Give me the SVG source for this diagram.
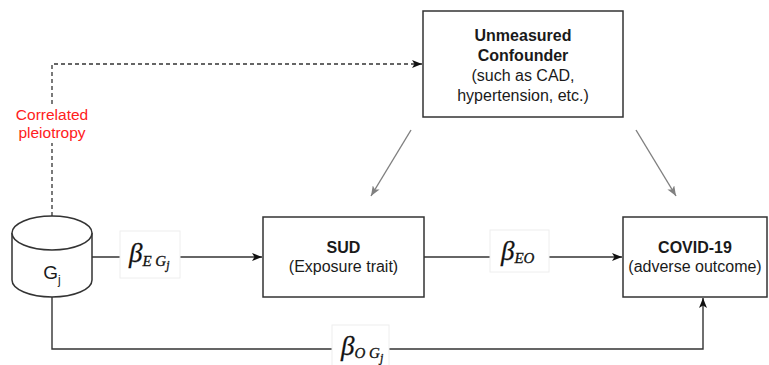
<svg xmlns="http://www.w3.org/2000/svg" width="769" height="365" viewBox="0 0 769 365">
<style>
.box{fill:#fff;stroke:#333;stroke-width:1.5}
.ln{fill:none;stroke:#333;stroke-width:1.4}
.dash{fill:none;stroke:#333;stroke-width:1.3;stroke-dasharray:4 3}
.gry{fill:none;stroke:#808080;stroke-width:1.4}
.t{font-family:"Liberation Sans",Arial,sans-serif;font-size:16px;fill:#1a1a1a;text-anchor:middle}
.b{font-weight:bold}
.red{fill:#ff2020;font-size:15.5px}
.beta{font-family:"Liberation Serif","DejaVu Serif",serif;font-style:italic;fill:#111;stroke:#111;stroke-width:0.3}
.lbl{fill:#fff;stroke:#eeeeee;stroke-width:1}
</style>
<defs>
<marker id="ar" viewBox="0 0 10 8" refX="10" refY="4" markerWidth="10" markerHeight="8" markerUnits="userSpaceOnUse" orient="auto">
<path d="M0,0 L10,4 L0,8 L2.5,4 Z" fill="#111"/>
</marker>
<marker id="ag" viewBox="0 0 10 8" refX="10" refY="4" markerWidth="10" markerHeight="8" markerUnits="userSpaceOnUse" orient="auto">
<path d="M0,0 L10,4 L0,8 L2.5,4 Z" fill="#808080"/>
</marker>
</defs>
<rect width="769" height="365" fill="#fff"/>
<g id="connectors">
<path class="dash" d="M52,216 L52,64 L422,64" marker-end="url(#ar)"/>
<path class="ln" d="M92,257 L262,257" marker-end="url(#ar)"/>
<path class="ln" d="M424,257 L622,257" marker-end="url(#ar)"/>
<path class="ln" d="M52,297 L52,349 L703,349 L703,298" marker-end="url(#ar)"/>
<path class="gry" d="M411,130 L371,196" marker-end="url(#ag)"/>
<path class="gry" d="M636,130 L676,196" marker-end="url(#ag)"/>
<g id="label-pleio">
<rect x="13" y="106" width="78" height="37" fill="#fff"/>
<text class="t red" x="52" y="120">Correlated</text>
<text class="t red" x="52" y="138">pleiotropy</text>
</g>
<g id="label-beta-egj">
<rect class="lbl" x="120" y="231" width="60" height="47"/>
<text class="beta" x="129" y="262" font-size="27">β<tspan font-size="15" dy="4">E G</tspan><tspan font-size="12" dy="3">j</tspan></text>
</g>
<g id="label-beta-eo">
<rect class="lbl" x="490" y="230" width="59" height="42"/>
<text class="beta" x="501" y="260" font-size="27">β<tspan font-size="15" dy="3">EO</tspan></text>
</g>
<g id="label-beta-ogj">
<rect class="lbl" x="332" y="325" width="57" height="45"/>
<text class="beta" x="341" y="355" font-size="27">β<tspan font-size="15" dy="3">O G</tspan><tspan font-size="12" dy="4">j</tspan></text>
</g>
</g>
<g id="node-gj">
<path class="box" d="M12,233 A40,17 0 0,1 92,233 L92,280 A40,17 0 0,1 12,280 Z"/>
<path class="box" fill="none" d="M12,233 A40,17 0 0,0 92,233"/>
<text class="t" x="52" y="279" style="font-size:19px">G<tspan style="font-size:12px" dy="5">j</tspan></text>
</g>
<g id="node-confounder">
<rect class="box" x="423" y="11" width="200" height="106"/>
<text class="t b" x="523" y="41">Unmeasured</text>
<text class="t b" x="523" y="61">Confounder</text>
<text class="t" x="523" y="81">(such as CAD,</text>
<text class="t" x="523" y="101">hypertension, etc.)</text>
</g>
<g id="node-sud">
<rect class="box" x="263" y="217" width="161" height="80"/>
<text class="t b" x="343.5" y="253">SUD</text>
<text class="t" x="343.5" y="271.5">(Exposure trait)</text>
</g>
<g id="node-covid">
<rect class="box" x="623" y="217" width="144" height="80"/>
<text class="t b" x="695" y="253">COVID-19</text>
<text class="t" x="695" y="271.5">(adverse outcome)</text>
</g>
</svg>
